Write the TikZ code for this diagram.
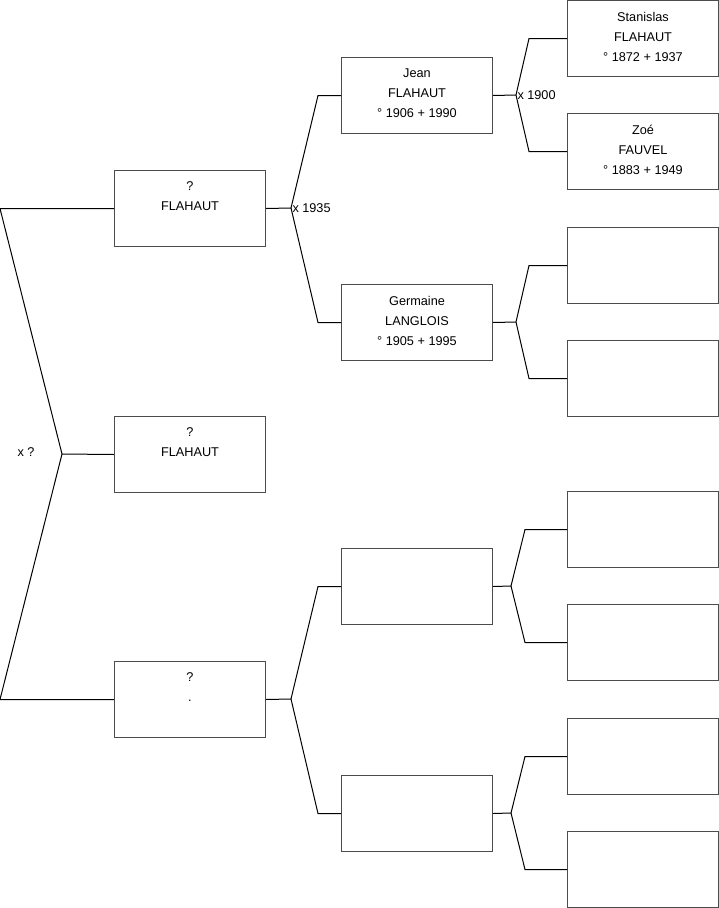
\documentclass[tikz,border=0pt]{standalone}
\usepackage{fontspec}
\setmainfont{Liberation Sans}

\begin{document}
\begin{tikzpicture}[x=1pt,y=-1pt,line width=1pt,
  person/.style={draw=black!70,minimum width=151pt,minimum height=76pt,inner sep=0pt,anchor=north west},
  ptext/.style={anchor=north,align=center,inner sep=0pt,font=\fontsize{12.7}{20}\selectfont},
  wed/.style={anchor=west,inner sep=1pt,font=\fontsize{12.7}{15}\selectfont}]
  \useasboundingbox (0,0) rectangle (719,908);
  % enfants
  \node[person] (g1a) at (114,170){}; \node[ptext] at ([yshift=-11.5pt]g1a.north){?\\FLAHAUT};
  \node[person] (g1b) at (114,416){}; \node[ptext] at ([yshift=-11.5pt]g1b.north){?\\FLAHAUT};
  \node[person] (g1c) at (114,661){}; \node[ptext] at ([yshift=-11.5pt]g1c.north){?\\.};
  % parents
  \node[person] (g2a) at (341,57){};  \node[ptext] at ([yshift=-11.5pt]g2a.north){Jean\\FLAHAUT\\° 1906 + 1990};
  \node[person] (g2b) at (341,284){}; \node[ptext] at ([yshift=-11.5pt]g2b.north){Germaine\\LANGLOIS\\° 1905 + 1995};
  \node[person] (g2c) at (341,548){};
  \node[person] (g2d) at (341,775){};
  % grands-parents
  \node[person] (g3a) at (567,0){};   \node[ptext] at ([yshift=-11.5pt]g3a.north){Stanislas\\FLAHAUT\\° 1872 + 1937};
  \node[person] (g3b) at (567,113){}; \node[ptext] at ([yshift=-11.5pt]g3b.north){Zoé\\FAUVEL\\° 1883 + 1949};
  \node[person] (g3c) at (567,227){};
  \node[person] (g3d) at (567,340){};
  \node[person] (g3e) at (567,491){};
  \node[person] (g3f) at (567,604){};
  \node[person] (g3g) at (567,718){};
  \node[person] (g3h) at (567,831){};
  % mariages
  \coordinate (m0) at (62,454);
  \coordinate (m1) at (291,208);
  \coordinate (m2) at (291,699);
  \coordinate (m3) at (516,95);
  \coordinate (m4) at (516,322);
  \coordinate (m5) at (511,586);
  \coordinate (m6) at (511,813);
  \draw (g1a.west) -- ([xshift=-114pt]g1a.west) -- (m0) -- ([xshift=-114pt]g1c.west) -- (g1c.west);
  \draw (m0) -- (g1b.west);
  \node[anchor=center,inner sep=0pt,font=\fontsize{12.7}{15}\selectfont] at (26,452){x ?};
  \draw (g1a.east) -- (m1) -- ([xshift=-23pt]g2a.west) -- (g2a.west);
  \draw (m1) -- ([xshift=-23pt]g2b.west) -- (g2b.west);
  \node[wed] at (m1){x 1935};
  \draw (g1c.east) -- (m2) -- ([xshift=-23pt]g2c.west) -- (g2c.west);
  \draw (m2) -- ([xshift=-23pt]g2d.west) -- (g2d.west);
  \draw (g2a.east) -- (m3) -- ([xshift=-38pt]g3a.west) -- (g3a.west);
  \draw (m3) -- ([xshift=-38pt]g3b.west) -- (g3b.west);
  \node[wed] at (m3){x 1900};
  \draw (g2b.east) -- (m4) -- ([xshift=-38pt]g3c.west) -- (g3c.west);
  \draw (m4) -- ([xshift=-38pt]g3d.west) -- (g3d.west);
  \draw (g2c.east) -- (m5) -- ([xshift=-42pt]g3e.west) -- (g3e.west);
  \draw (m5) -- ([xshift=-42pt]g3f.west) -- (g3f.west);
  \draw (g2d.east) -- (m6) -- ([xshift=-42pt]g3g.west) -- (g3g.west);
  \draw (m6) -- ([xshift=-42pt]g3h.west) -- (g3h.west);
\end{tikzpicture}
\end{document}
